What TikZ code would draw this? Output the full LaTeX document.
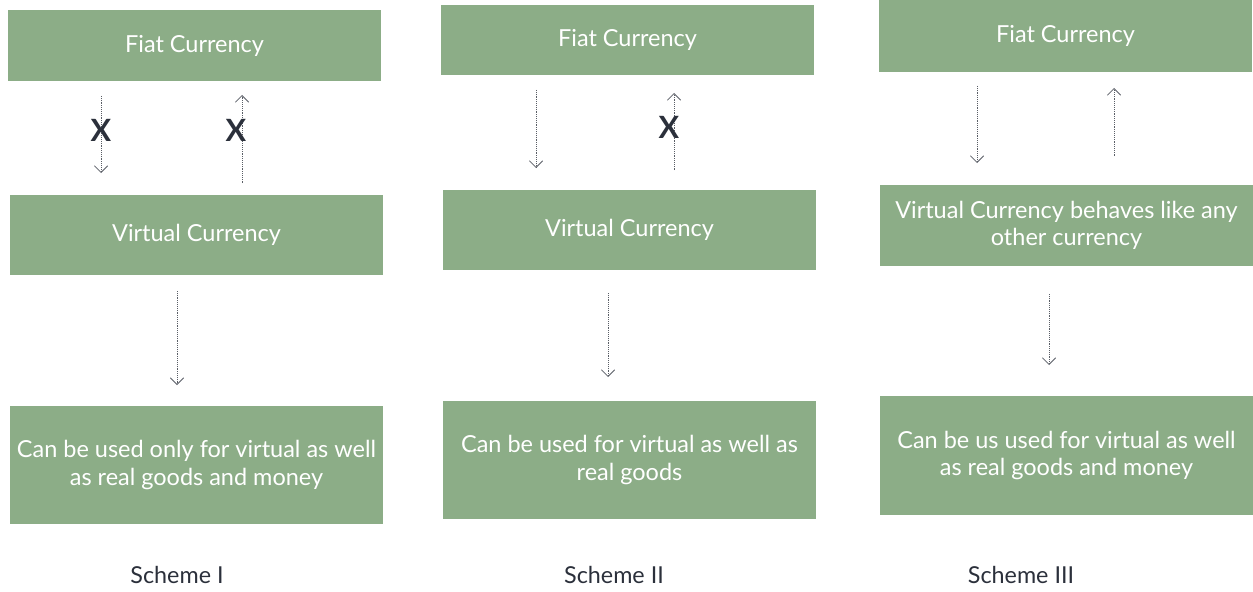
\documentclass[tikz,border=0pt]{standalone}
\usepackage{fontspec}
\setmainfont{Lato}
\usetikzlibrary{arrows.meta}
\definecolor{boxgreen}{HTML}{8CAD87}
\definecolor{arrowgray}{HTML}{5A5E66}
\definecolor{crossdark}{HTML}{2B303B}
\begin{document}
\begin{tikzpicture}[x=0.75pt,y=-0.75pt,
    box/.style={fill=boxgreen,text=white,minimum width=279.75pt,inner sep=0pt,
        align=center,font=\fontsize{17.6}{20.5}\selectfont},
    flow/.style={draw=arrowgray,densely dotted,
        -{Straight Barb[length=5pt,width=10pt,line width=0.6pt]}},
    cross/.style={text=crossdark,font=\fontsize{23}{24}\selectfont\bfseries},
    caption/.style={text=crossdark,font=\fontsize{17.5}{20}\selectfont}]
    \useasboundingbox (0,0) rectangle (1253,592);

    % Scheme I
    \node[box, minimum height=53.25pt] (fiat1) at (194.5, 45.5) {Fiat Currency};
    \node[box, minimum height=60pt] (virt1) at (196.5, 235) {Virtual Currency};
    \node[box, minimum height=88.5pt] (use1) at (196.5, 465)
        {Can be used only for virtual as well\\as real goods and money};
    \node[caption] (cap1) at (177, 575) {Scheme I};

    \coordinate (d1a) at (101, 96);
    \coordinate (d1b) at (101, 173);
    \coordinate (u1a) at (242, 183);
    \coordinate (u1b) at (242, 95);
    \coordinate (b1a) at (177, 291);
    \coordinate (b1b) at (177, 385);
    \draw[flow] (d1a) -- (d1b);
    \draw[flow] (u1a) -- (u1b);
    \draw[flow] (b1a) -- (b1b);
    \node[cross] (x1a) at (101, 130) {X};
    \node[cross] (x1b) at (236, 130) {X};

    % Scheme II
    \node[box, minimum height=52.5pt] (fiat2) at (627.5, 40) {Fiat Currency};
    \node[box, minimum height=60pt] (virt2) at (629.5, 230) {Virtual Currency};
    \node[box, minimum height=88.5pt] (use2) at (629.5, 460)
        {Can be used for virtual as well as\\real goods};
    \node[caption] (cap2) at (614, 575) {Scheme II};

    \coordinate (d2a) at (536, 90);
    \coordinate (d2b) at (536, 168);
    \coordinate (u2a) at (674, 170);
    \coordinate (u2b) at (674, 93);
    \coordinate (b2a) at (608, 293);
    \coordinate (b2b) at (608, 377);
    \draw[flow] (d2a) -- (d2b);
    \draw[flow] (u2a) -- (u2b);
    \draw[flow] (b2a) -- (b2b);
    \node[cross] (x2) at (669, 127) {X};

    % Scheme III
    \node[box, minimum height=54pt] (fiat3) at (1065.5, 36) {Fiat Currency};
    \node[box, minimum height=60.75pt] (virt3) at (1066.5, 225.5)
        {Virtual Currency behaves like any\\other currency};
    \node[box, minimum height=89.25pt] (use3) at (1066.5, 455.5)
        {Can be us used for virtual as well\\as real goods and money};
    \node[caption] (cap3) at (1021, 575) {Scheme III};

    \coordinate (d3a) at (977, 86);
    \coordinate (d3b) at (977, 163);
    \coordinate (u3a) at (1114, 156);
    \coordinate (u3b) at (1114, 88);
    \coordinate (b3a) at (1049, 294);
    \coordinate (b3b) at (1049, 365);
    \draw[flow] (d3a) -- (d3b);
    \draw[flow] (u3a) -- (u3b);
    \draw[flow] (b3a) -- (b3b);
\end{tikzpicture}
\end{document}
